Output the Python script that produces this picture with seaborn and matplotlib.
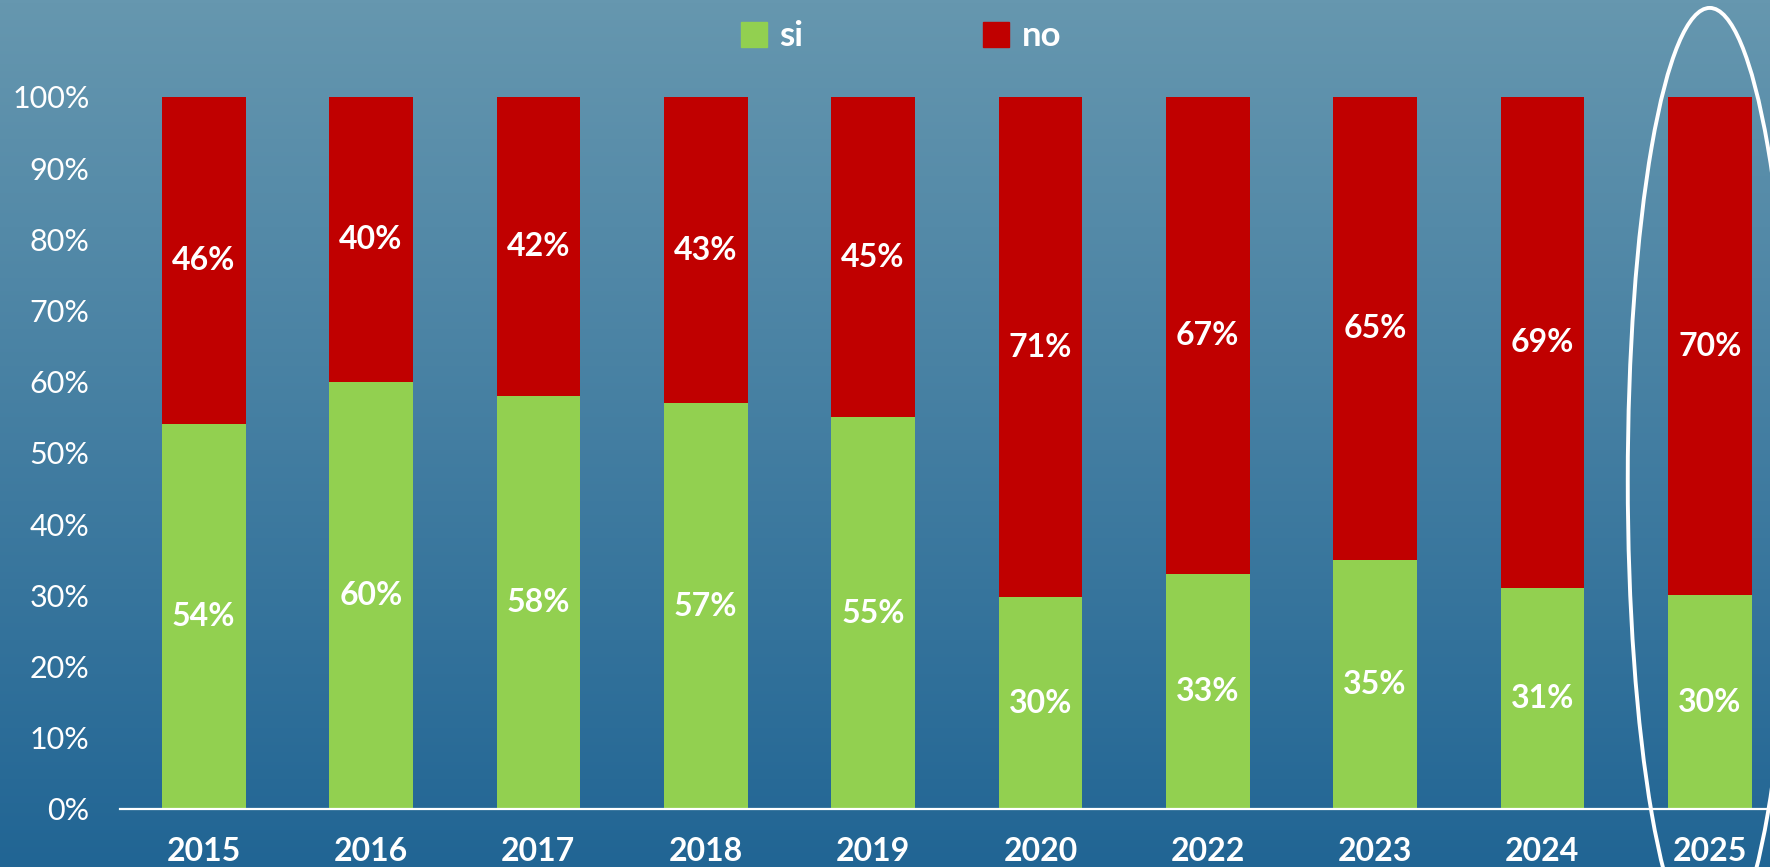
import numpy as np
import pandas as pd
import seaborn as sns
import matplotlib.pyplot as plt
from matplotlib.colors import LinearSegmentedColormap
from matplotlib.patches import Ellipse, Patch

# chart data
years = ["2015", "2016", "2017", "2018", "2019", "2020", "2022", "2023", "2024", "2025"]
si = [54, 60, 58, 57, 55, 30, 33, 35, 31, 30]
no = [46, 40, 42, 43, 45, 71, 67, 65, 69, 70]
y_ticks = list(range(0, 101, 10))
y_tick_labels = [f"{t}%" for t in y_ticks]

GREEN = "#92d050"
RED = "#c00000"

df = pd.DataFrame({"year": years, "si": si, "no": no})
df["si_pct"] = df["si"] / (df["si"] + df["no"]) * 100
df["full"] = 100.0

sns.set_style("white")
plt.rcParams["font.family"] = ["Lato", "DejaVu Sans"]

fig = plt.figure(figsize=(17.7, 8.67), dpi=100)

# background gradient
bg = fig.add_axes([0, 0, 1, 1], zorder=-1)
grad = np.linspace(0, 1, 256).reshape(-1, 1)
cmap = LinearSegmentedColormap.from_list("bg", ["#6697af", "#216594"])
bg.imshow(grad, aspect="auto", cmap=cmap, extent=[0, 1, 0, 1])
bg.axis("off")

ax = fig.add_axes([0.0678, 0.0669, 1 - 0.0678, 0.8213])
ax.patch.set_alpha(0)

# stacked 100% bars: red full bar, green "si" share on top
sns.barplot(data=df, x="year", y="full", color=RED, width=0.5, saturation=1,
            linewidth=0, ax=ax)
sns.barplot(data=df, x="year", y="si_pct", color=GREEN, width=0.5, saturation=1,
            linewidth=0, ax=ax)

for i, row in df.iterrows():
    ax.text(i, row["si_pct"] / 2, f"{row['si']}%", ha="center", va="center",
            color="white", fontsize=23, fontweight="bold")
    ax.text(i, (row["si_pct"] + 100) / 2, f"{row['no']}%", ha="center", va="center",
            color="white", fontsize=23, fontweight="bold")

ax.set_xlim(-0.5, 9.36)
ax.set_ylim(0, 100)
ax.set_yticks(y_ticks)
ax.set_yticklabels(y_tick_labels, fontsize=22, color="white")
ax.tick_params(axis="y", length=0, pad=22)
ax.tick_params(axis="x", length=0, pad=20, labelsize=23, labelcolor="white")
for lbl in ax.get_xticklabels():
    lbl.set_fontweight("bold")
ax.set_xlabel("")
ax.set_ylabel("")

for side in ["top", "right", "left"]:
    ax.spines[side].set_visible(False)
ax.spines["bottom"].set_color("white")
ax.spines["bottom"].set_linewidth(1.6)

# highlight of the last year
ax.add_patch(Ellipse((9.0, 46.2), width=0.98, height=132.6, fill=False,
                     edgecolor="white", linewidth=2.8, clip_on=False))

handles = [Patch(color=GREEN, label="si"), Patch(color=RED, label="no")]
fig.legend(handles=handles, loc="center", bbox_to_anchor=(0.509, 0.958), ncol=2,
           frameon=False, prop={"weight": "bold", "size": 25}, labelcolor="white",
           handlelength=0.75, handleheight=0.75, handletextpad=0.35, columnspacing=5.2)

fig.savefig("out.png", dpi=100)
